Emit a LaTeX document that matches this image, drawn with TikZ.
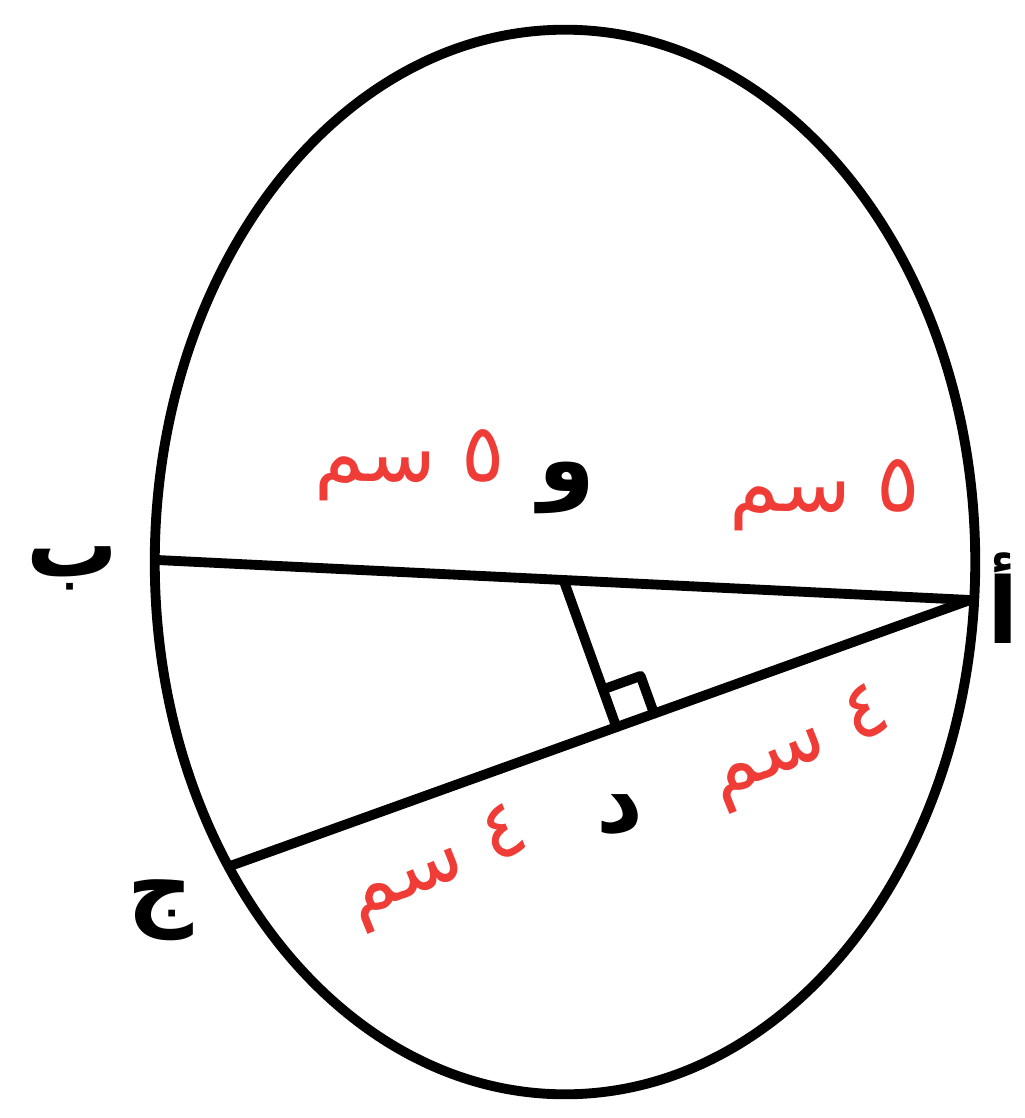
\documentclass[tikz,border=0pt]{standalone}
\usepackage{fontspec}
\usetikzlibrary{calc}
\TeXXeTstate=1
\newfontfamily\arabicfont[Script=Arabic]{DejaVu Sans}
\definecolor{handred}{RGB}{240,60,55}
\tikzset{
  geo/.style={line width=2.8pt, line cap=round, line join=round, black},
  ptlabel/.style={font=\arabicfont\bfseries\fontsize{26}{30}\selectfont, inner sep=0pt},
  meas/.style={font=\arabicfont\fontsize{23}{26}\selectfont, text=handred, inner sep=0pt}
}
\begin{document}
\begin{tikzpicture}[x=0.01cm,y=-0.01cm]
\useasboundingbox (0,0) rectangle (1025,1118);
% circle
\draw[geo] (565,562) ellipse [x radius=4.1cm, y radius=5.32cm];
% points
\coordinate (A) at (970,600);
\coordinate (B) at (157,560);
\coordinate (C) at (233,865);
\coordinate (O) at ($(A)!0.5!(B)$);
\coordinate (D) at ($(A)!(O)!(C)$);
% segments
\draw[geo] (B) -- (A);
\draw[geo] (A) -- (C);
\draw[geo] (O) -- (D);
% right angle mark
\coordinate (D1) at ($(D)!0.4cm!(A)$);
\coordinate (D2) at ($(D)!0.4cm!(O)$);
\coordinate (D3) at ($(D1)+(D2)-(D)$);
\draw[geo] (D1) -- (D3) -- (D2);
% point labels
\node[ptlabel] (lB) at (72,568) {\beginR ب\endR};
\node[ptlabel] (lA) at (1003,598) {\beginR أ\endR};
\node[ptlabel] (lC) at (160,910) {\beginR ج\endR};
\node[ptlabel] (lD) at (620,815) {\beginR د\endR};
\node[ptlabel] (lO) at (567,488) {\beginR و\endR};
% measures
\node[meas] (m1) at (410,465) {\beginR ٥ سم\endR};
\node[meas] (m2) at (825,495) {\beginR ٥ سم\endR};
\node[meas, rotate=22] (m3) at (800,748) {\beginR ٤ سم\endR};
\node[meas, rotate=22] (m4) at (438,868) {\beginR ٤ سم\endR};
\end{tikzpicture}
\end{document}
